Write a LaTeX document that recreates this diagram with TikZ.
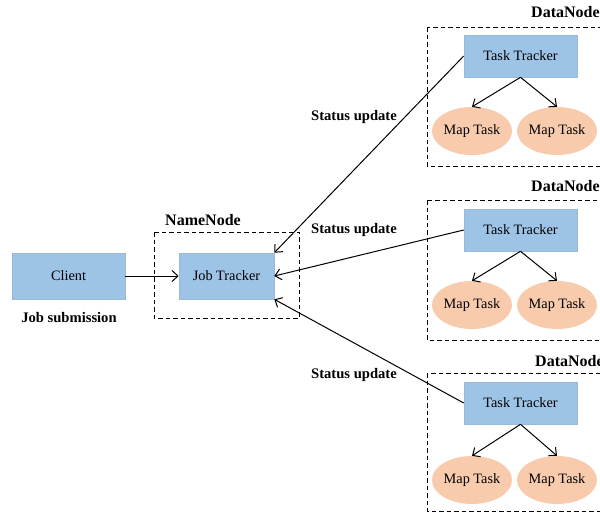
\documentclass[tikz,border=0pt]{standalone}
\usepackage{fontspec}
\setmainfont{Liberation Serif}
\usetikzlibrary{arrows.meta,shapes.geometric}
\definecolor{boxblue}{RGB}{157,195,230}
\definecolor{mapor}{RGB}{248,203,173}
\tikzset{
  bluebox/.style={rectangle,fill=boxblue,draw=boxblue!85!gray,line width=0.6pt,inner sep=0pt,font=\fontsize{14.3}{16}\selectfont},
  mapnode/.style={ellipse,fill=mapor,inner sep=0pt,minimum width=80pt,minimum height=48pt,font=\fontsize{14.3}{16}\selectfont},
  grp/.style={draw=black,line width=0.8pt,dash pattern=on 4.5pt off 3pt},
  boldlbl/.style={font=\bfseries\fontsize{14.6}{16}\selectfont,inner sep=0pt},
  titlelbl/.style={font=\bfseries\fontsize{16}{18}\selectfont,inner sep=0pt},
  arr/.style={line width=1pt,-{Straight Barb[length=6pt,width=11pt]}}
}
\begin{document}
\begin{tikzpicture}[x=1pt,y=-1pt]
\clip (0,0) rectangle (600,512);
\fill[white] (0,0) rectangle (600,512);
% groups
\draw[grp] (154,232) rectangle (299,318);
\draw[grp] (427,27) rectangle (612,166);
\draw[grp] (427,200) rectangle (612,340);
\draw[grp] (427,373) rectangle (612,511);
% titles
\node[titlelbl] (nn) at (203,220) {NameNode};
\node[titlelbl,anchor=west] (dn1) at (531,12) {DataNode};
\node[titlelbl,anchor=west] (dn2) at (531,186) {DataNode};
\node[titlelbl,anchor=west] (dn3) at (535,361) {DataNode};
% left
\node[bluebox,minimum width=113pt,minimum height=46pt] (client) at (68.5,276) {Client};
\node[boldlbl] (jobsub) at (69,318) {Job submission};
\node[bluebox,minimum width=95pt,minimum height=46pt] (jt) at (226.5,276) {Job Tracker};
% task trackers
\node[bluebox,minimum width=113pt,minimum height=42pt] (tt1) at (520.5,56) {Task Tracker};
\node[bluebox,minimum width=113pt,minimum height=42pt] (tt2) at (520.5,230) {Task Tracker};
\node[bluebox,minimum width=113pt,minimum height=42pt] (tt3) at (520.5,403) {Task Tracker};
% map tasks
\node[mapnode] (m1a) at (472,131) {Map Task};
\node[mapnode] (m1b) at (557,131) {Map Task};
\node[mapnode] (m2a) at (472,305) {Map Task};
\node[mapnode] (m2b) at (557,305) {Map Task};
\node[mapnode] (m3a) at (472,480) {Map Task};
\node[mapnode] (m3b) at (557,480) {Map Task};
% status labels
\node[boldlbl] (s1) at (354,117) {Status update};
\node[boldlbl] (s2) at (354,230) {Status update};
\node[boldlbl] (s3) at (354,375) {Status update};
% connectors
\draw[arr] (client.east) -- (jt.west);
\draw[arr] (tt1.west) -- (jt.north east);
\draw[arr] (tt2.west) -- (jt.east);
\draw[arr] (tt3.west) -- (jt.south east);
\foreach \t/\a/\b in {tt1/m1a/m1b,tt2/m2a/m2b,tt3/m3a/m3b}{
  \draw[arr] (\t.south) -- (\a.north);
  \draw[arr] (\t.south) -- (\b.north);
}
\end{tikzpicture}
\end{document}
